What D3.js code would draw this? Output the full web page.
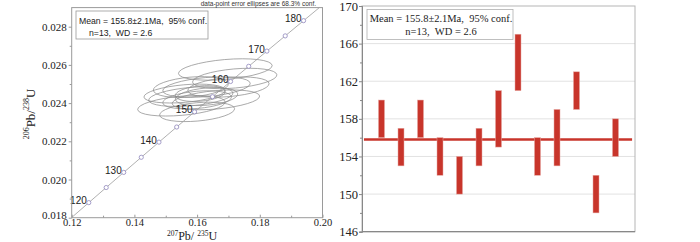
<!DOCTYPE html>
<html>
<head>
<meta charset="utf-8">
<script src="https://cdn.jsdelivr.net/npm/d3@7"></script>
<style>
  body { margin: 0; background: #fff; }
  svg { display: block; }
</style>
</head>
<body>
<svg id="chart" width="700" height="242"></svg>
<script>
// Concordia curve points [207Pb/235U, 206Pb/238U] and labelled ages (Ma)
const concordiaAges = [120, 125, 130, 135, 140, 145, 150, 155, 160, 165, 170, 175, 180];
const concordiaX = [0.12545, 0.13100, 0.13659, 0.14219, 0.14783, 0.15349, 0.15919, 0.16492, 0.17067, 0.17646, 0.18226, 0.18811, 0.19396];
const concordiaY = [0.018789, 0.019580, 0.020371, 0.021163, 0.021955, 0.022748, 0.023542, 0.024335, 0.025131, 0.025926, 0.026722, 0.027519, 0.028316];
const concordiaStart = [0.1200, 0.01801];
const concordiaEnd = [0.1990, 0.02900];
const labelledAges = [120, 130, 140, 150, 160, 170, 180];

// Error ellipses: centre x/y, semi-axis in x and y (data units)
const ellX = [0.163, 0.158, 0.170, 0.160, 0.155, 0.163, 0.158, 0.169, 0.166, 0.161, 0.172, 0.160, 0.156];
const ellY = [0.02484, 0.02434, 0.02484, 0.02417, 0.02386, 0.02434, 0.02484, 0.02576, 0.02417, 0.02450, 0.02529, 0.02354, 0.02450];
const ellA = [0.0140, 0.0135, 0.0130, 0.0110, 0.0140, 0.0100, 0.0120, 0.0150, 0.0140, 0.0080, 0.0135, 0.0120, 0.0130];
const ellB = [0.00050, 0.00048, 0.00050, 0.00045, 0.00050, 0.00045, 0.00052, 0.00052, 0.00048, 0.00040, 0.00050, 0.00048, 0.00046];

// Weighted mean plot: age low / high per spot (Ma)
const spots = [1, 2, 3, 4, 5, 6, 7, 8, 9, 10, 11, 12, 13];
const ageLow  = [156, 153, 156, 152, 150, 153, 155, 161, 152, 153, 159, 148, 154];
const ageHigh = [160, 157, 160, 156, 154, 157, 161, 167, 156, 159, 163, 152, 158];
const meanAge = 155.8;

const xTicksL = [0.12, 0.14, 0.16, 0.18, 0.20];
const xMinorL = [0.13, 0.15, 0.17, 0.19];
const yTicksL = [0.018, 0.020, 0.022, 0.024, 0.026, 0.028];
const yMinorL = [0.019, 0.021, 0.023, 0.025, 0.027];
const yTicksR = [146, 150, 154, 158, 162, 166, 170];
const yMinorR = [148, 152, 156, 160, 164, 168];

const statLine1 = "Mean = 155.8±2.1Ma,\u00a0\u00a095% conf.";
const statLine2 = "n=13,\u00a0\u00a0WD = 2.6";
const caption = "data-point error ellipses are 68.3% conf.";

const serif = "'Liberation Serif', 'Times New Roman', serif";
const sans = "'Liberation Sans', Arial, sans-serif";
const red = "#c8352b";
const frameColor = "#9a9a9a";

const svg = d3.select("#chart");

// ---------- Left: concordia diagram ----------
const xL = d3.scaleLinear().domain([0.12, 0.20]).range([71.7, 322.5]);
const yL = d3.scaleLinear().domain([0.018, 0.029]).range([217.7, 7.6]);

const left = svg.append("g");

// ellipses
left.selectAll(".ell")
  .data(d3.range(ellX.length))
  .enter().append("ellipse")
  .attr("class", "ell")
  .attr("cx", i => xL(ellX[i]))
  .attr("cy", i => yL(ellY[i]))
  .attr("rx", i => xL(ellX[i] + ellA[i]) - xL(ellX[i]))
  .attr("ry", i => yL(ellY[i]) - yL(ellY[i] + ellB[i]))
  .attr("transform", i => `rotate(-5, ${xL(ellX[i])}, ${yL(ellY[i])})`)
  .attr("fill", "none")
  .attr("stroke", "#8a8a8a")
  .attr("stroke-width", 0.7);

// concordia line
const curvePts = [concordiaStart].concat(concordiaX.map((x, i) => [x, concordiaY[i]]), [concordiaEnd]);
left.append("path")
  .attr("d", d3.line().x(d => xL(d[0])).y(d => yL(d[1]))(curvePts))
  .attr("fill", "none")
  .attr("stroke", "#9c9c9c")
  .attr("stroke-width", 0.8);

// age labels
left.selectAll(".age-label")
  .data(labelledAges)
  .enter().append("text")
  .attr("class", "age-label")
  .attr("x", a => xL(concordiaX[concordiaAges.indexOf(a)]) - 2)
  .attr("y", a => yL(concordiaY[concordiaAges.indexOf(a)]) + 1.5)
  .attr("text-anchor", "end")
  .attr("font-family", sans)
  .attr("font-size", 10)
  .attr("fill", "#222")
  .text(a => a);

// markers
left.selectAll(".age-dot")
  .data(concordiaAges)
  .enter().append("circle")
  .attr("class", "age-dot")
  .attr("cx", (a, i) => xL(concordiaX[i]))
  .attr("cy", (a, i) => yL(concordiaY[i]))
  .attr("r", 2.1)
  .attr("fill", "#fff")
  .attr("stroke", "#8f86bd")
  .attr("stroke-width", 0.8);

// frame
left.append("rect")
  .attr("x", xL(0.12)).attr("y", yL(0.029))
  .attr("width", xL(0.20) - xL(0.12))
  .attr("height", yL(0.018) - yL(0.029))
  .attr("fill", "none")
  .attr("stroke", frameColor)
  .attr("stroke-width", 1);

// axes
left.append("g")
  .attr("class", "y-axis-l")
  .attr("transform", `translate(${xL(0.12)},0)`)
  .call(d3.axisLeft(yL).tickValues(yTicksL).tickFormat(d3.format(".3f")).tickSize(3).tickPadding(2));
left.append("g")
  .attr("transform", `translate(${xL(0.12)},0)`)
  .call(d3.axisLeft(yL).tickValues(yMinorL).tickFormat("").tickSize(2));

left.append("g")
  .attr("class", "x-axis-l")
  .attr("transform", `translate(0,${yL(0.018)})`)
  .call(d3.axisBottom(xL).tickValues(xTicksL).tickFormat(d3.format(".2f")).tickSizeInner(-3).tickSizeOuter(0).tickPadding(0));
left.append("g")
  .attr("transform", `translate(0,${yL(0.018)})`)
  .call(d3.axisBottom(xL).tickValues(xMinorL).tickFormat("").tickSizeInner(-2).tickSizeOuter(0));

left.selectAll(".domain").remove();
left.selectAll(".tick line").attr("stroke", frameColor);
left.selectAll(".tick text")
  .attr("font-family", serif)
  .attr("font-size", 11)
  .attr("fill", "#222");
left.selectAll(".x-axis-l .tick text").attr("y", 1).attr("dy", "0.71em").attr("font-size", 10.5);
// lift the corner label so it clears the 0.12 label
left.selectAll(".y-axis-l .tick text").filter(d => d === 0.018).attr("dy", "0.1em");

// axis titles
const xTitle = left.append("text")
  .attr("x", 192).attr("y", 239.5)
  .attr("text-anchor", "middle")
  .attr("font-family", serif)
  .attr("font-size", 12)
  .attr("fill", "#222");
xTitle.append("tspan").attr("font-size", 7.5).attr("dy", -4).text("207");
xTitle.append("tspan").attr("dy", 4).text("Pb/ ");
xTitle.append("tspan").attr("font-size", 7.5).attr("dy", -4).text("235");
xTitle.append("tspan").attr("dy", 4).text("U");

const yTitle = left.append("text")
  .attr("transform", "translate(35,114) rotate(-90)")
  .attr("text-anchor", "middle")
  .attr("font-family", serif)
  .attr("font-size", 13)
  .attr("fill", "#222");
yTitle.append("tspan").attr("font-size", 8).attr("dy", -6).text("206");
yTitle.append("tspan").attr("dy", 6).text("Pb/");
yTitle.append("tspan").attr("font-size", 8).attr("dy", -6).text("238");
yTitle.append("tspan").attr("dy", 6).text("U");

// caption
left.append("text")
  .attr("x", 316).attr("y", 5.5)
  .attr("text-anchor", "end")
  .attr("font-family", sans)
  .attr("font-size", 6.5)
  .attr("fill", "#333")
  .text(caption);

// stats box
left.append("rect")
  .attr("x", 76).attr("y", 11).attr("width", 132).attr("height", 28)
  .attr("fill", "#fff").attr("stroke", frameColor).attr("stroke-width", 0.8);
left.append("text")
  .attr("x", 143).attr("y", 24)
  .attr("text-anchor", "middle")
  .attr("font-family", sans).attr("font-size", 8.7).attr("fill", "#222")
  .text(statLine1);
left.append("text")
  .attr("x", 89).attr("y", 36)
  .attr("font-family", sans).attr("font-size", 8.7).attr("fill", "#222")
  .text(statLine2);

// ---------- Right: weighted mean plot ----------
const xR = d3.scaleLinear().domain([0, 14]).range([362, 635]);
const yR = d3.scaleLinear().domain([146, 170]).range([231.7, 6]);

const right = svg.append("g");

// gridlines
right.selectAll(".grid")
  .data(yTicksR.slice(1, -1))
  .enter().append("line")
  .attr("x1", xR(0)).attr("x2", xR(14))
  .attr("y1", d => yR(d)).attr("y2", d => yR(d))
  .attr("stroke", "#e2e2e2")
  .attr("stroke-width", 1);

// frame
right.append("rect")
  .attr("x", xR(0)).attr("y", yR(170))
  .attr("width", xR(14) - xR(0))
  .attr("height", yR(146) - yR(170))
  .attr("fill", "none")
  .attr("stroke", "#b5b5b5")
  .attr("stroke-width", 1);

right.append("g")
  .attr("transform", `translate(${xR(0)},0)`)
  .call(d3.axisLeft(yR).tickValues(yTicksR).tickFormat(d3.format("d")).tickSize(3).tickPadding(1));
right.append("g")
  .attr("transform", `translate(${xR(0)},0)`)
  .call(d3.axisLeft(yR).tickValues(yMinorR).tickFormat("").tickSize(2));
right.append("line")
  .attr("x1", xR(0)).attr("x2", xR(14))
  .attr("y1", yR(146)).attr("y2", yR(146))
  .attr("stroke", "#888").attr("stroke-width", 1.2);

right.selectAll(".domain").attr("stroke", "#888");
right.selectAll(".tick line").attr("stroke", "#888");
right.selectAll(".tick text")
  .attr("font-family", serif)
  .attr("font-size", 12.5)
  .attr("fill", "#222");

// mean line
right.append("line")
  .attr("x1", xR(0.1)).attr("x2", xR(13.85))
  .attr("y1", yR(meanAge)).attr("y2", yR(meanAge))
  .attr("stroke", red)
  .attr("stroke-width", 2.4);

// error bars
const barW = 6;
right.selectAll(".bar")
  .data(spots)
  .enter().append("rect")
  .attr("class", "bar")
  .attr("x", (s, i) => xR(s) - barW / 2)
  .attr("y", (s, i) => yR(ageHigh[i]))
  .attr("width", barW)
  .attr("height", (s, i) => yR(ageLow[i]) - yR(ageHigh[i]))
  .attr("fill", red)
  .attr("stroke", "#e6a7a2")
  .attr("stroke-width", 0.5);

// stats box
right.append("rect")
  .attr("x", 367).attr("y", 9.5).attr("width", 146).attr("height", 30)
  .attr("fill", "#fff").attr("stroke", "#b0b0b0").attr("stroke-width", 0.8);
right.append("text")
  .attr("x", 441).attr("y", 22)
  .attr("text-anchor", "middle")
  .attr("font-family", serif).attr("font-size", 10.5).attr("fill", "#222")
  .text(statLine1);
right.append("text")
  .attr("x", 441).attr("y", 35)
  .attr("text-anchor", "middle")
  .attr("font-family", serif).attr("font-size", 10.5).attr("fill", "#222")
  .text(statLine2);
</script>
</body>
</html>
